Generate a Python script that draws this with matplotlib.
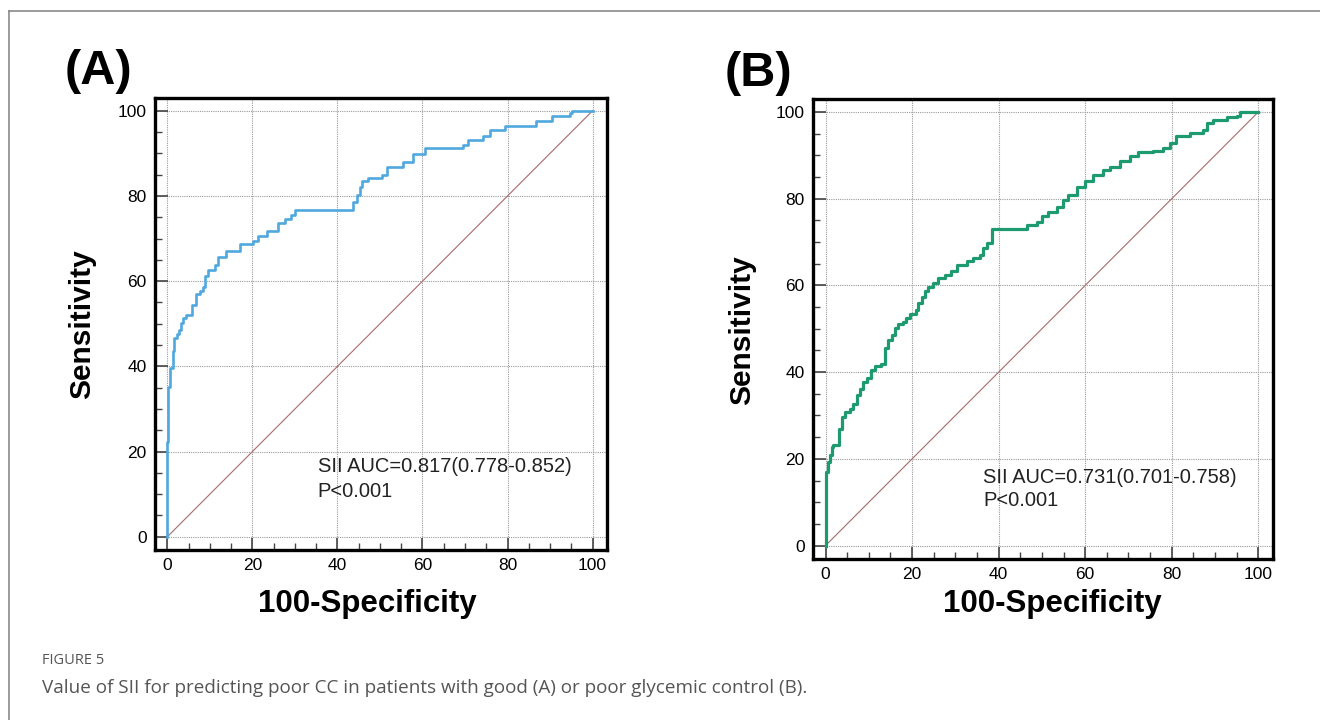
import numpy as np
import matplotlib
matplotlib.use('Agg')
import matplotlib.pyplot as plt
from matplotlib.ticker import MultipleLocator

plt.rcParams['font.family'] = ['Liberation Sans', 'DejaVu Sans']

# ROC vertices (100-Specificity, Sensitivity), panel A: good glycemic control
fpr_a = [0, 0, 0.2, 0.6, 1.25, 1.6, 2.2, 2.8, 3.2, 3.8, 4.4, 5.7, 6.7, 7.7, 8.5, 8.9, 9.6,
         11.2, 12.0, 13.9, 17.1, 20.2, 21.4, 23.4, 26.1, 27.7, 29.2, 30.0, 43.7, 44.5,
         45.3, 45.8, 47.3, 50.4, 51.6, 55.5, 57.8, 60.6, 69.6, 70.8, 74.3, 75.9, 79.4,
         86.8, 90.4, 94.7, 95.1, 100]
tpr_a = [0, 22.3, 35.2, 39.7, 43.5, 46.6, 47.5, 48.6, 50.1, 51.4, 52.0, 54.3, 57.1, 57.6,
         58.7, 61.1, 62.6, 63.8, 65.6, 67.2, 68.7, 69.5, 70.5, 71.7, 73.6, 74.6, 75.6,
         76.7, 78.7, 80.3, 82.2, 83.6, 84.3, 85.0, 86.7, 87.9, 89.8, 91.2, 92.0, 93.2,
         94.0, 95.5, 96.5, 97.7, 98.7, 99.5, 100, 100]

# panel B: poor glycemic control
fpr_b = [0, 0, 0.2, 0.6, 1.0, 1.4, 1.8, 3.2, 3.7, 4.5, 5.6, 6.4, 7.2, 7.9, 8.7, 9.5, 10.6,
         11.4, 12.9, 13.7, 14.5, 15.3, 16.0, 16.8, 17.9, 18.7, 19.5, 21.0, 21.4, 22.2,
         22.9, 23.7, 24.9, 26.0, 27.6, 29.1, 30.3, 32.6, 34.1, 35.7, 36.4, 37.2, 38.4,
         46.5, 48.8, 50.0, 51.5, 53.4, 54.9, 56.1, 58.0, 59.9, 61.8, 64.2, 65.7, 68.0,
         70.3, 72.3, 75.7, 78.0, 79.6, 81.1, 84.2, 87.3, 88.1, 89.6, 92.7, 95.0, 95.8, 100]
tpr_b = [0, 15.4, 17.0, 19.3, 20.8, 22.7, 23.1, 27.0, 29.7, 30.8, 31.6, 32.7, 34.7, 36.2,
         37.8, 38.7, 40.4, 41.4, 41.8, 45.5, 47.4, 48.5, 50.1, 51.0, 51.6, 52.5, 53.5,
         54.3, 55.9, 57.4, 58.6, 59.7, 60.5, 61.6, 62.4, 63.3, 64.7, 65.6, 66.4, 67.0,
         68.6, 69.7, 73.0, 74.0, 74.7, 75.9, 76.9, 78.2, 79.7, 80.9, 82.6, 84.0, 85.5,
         86.7, 87.4, 88.6, 89.8, 90.8, 91.1, 91.7, 92.8, 94.4, 95.1, 95.9, 97.5, 98.2,
         98.8, 99.0, 100, 100]

labels = ['(A)', '(B)']
auc_text = ['SII AUC=0.817(0.778-0.852)', 'SII AUC=0.731(0.701-0.758)']
p_text = 'P<0.001'
caption_head = 'FIGURE 5'
caption = 'Value of SII for predicting poor CC in patients with good (A) or poor glycemic control (B).'

fig = plt.figure(figsize=(13.2, 7.2), dpi=100)

# page frame lines (top and left)
fig.add_artist(plt.Line2D([9 / 1320, 1], [1 - 11 / 720, 1 - 11 / 720], color='#8a8a8a', lw=1.2))
fig.add_artist(plt.Line2D([9 / 1320, 9 / 1320], [0, 1 - 11 / 720], color='#8a8a8a', lw=1.2))

ax_a = fig.add_axes([155 / 1320, 1 - 550 / 720, 452 / 1320, 452 / 720])
ax_b = fig.add_axes([813 / 1320, 1 - 559 / 720, 460 / 1320, 460 / 720])

panels = [
    (ax_a, fpr_a, tpr_a, '#4fa8de', 1.9, (35.4, 16.4), (35.4, 10.7), (0.469, -0.119), (-0.1615, 0.5)),
    (ax_b, fpr_b, tpr_b, '#1d9a70', 2.3, (36.4, 15.7), (36.4, 10.4), (0.52, -0.098), (-0.154, 0.498)),
]

for i, (ax, fx, ty, col, lw, pos1, pos2, xl, yl) in enumerate(panels):
    ax.plot([0, 100], [0, 100], color='#a86a6a', lw=0.8, zorder=2)
    ax.plot(fx, ty, drawstyle='steps-post', color=col, lw=lw, zorder=3)
    ax.set_xlim(-2.9, 103.4)
    ax.set_ylim(-3.1, 103.0)
    ax.xaxis.set_major_locator(MultipleLocator(20))
    ax.yaxis.set_major_locator(MultipleLocator(20))
    ax.xaxis.set_minor_locator(MultipleLocator(5))
    ax.yaxis.set_minor_locator(MultipleLocator(5))
    ax.grid(True, which='major', color='#9a9a9a', linestyle=(0, (1, 1)), lw=0.8, zorder=1)
    ax.tick_params(which='major', direction='in', length=9, width=1.2, color='#444444',
                   labelsize=12.5, pad=6)
    ax.tick_params(which='minor', direction='in', length=5, width=1.0, color='#444444')
    for s in ax.spines.values():
        s.set_linewidth(2.4)
        s.set_color('black')
    ax.set_xlabel('100-Specificity', fontsize=22.5, fontweight='bold')
    ax.set_ylabel('Sensitivity', fontsize=21.5, fontweight='bold')
    ax.xaxis.label.set_verticalalignment('center')
    ax.yaxis.label.set_verticalalignment('center')
    ax.xaxis.set_label_coords(*xl)
    ax.yaxis.set_label_coords(*yl)
    ax.text(pos1[0], pos1[1], auc_text[i], fontsize=14.5, va='center', ha='left', color='#222222')
    ax.text(pos2[0], pos2[1], p_text, fontsize=14.5, va='center', ha='left', color='#222222')

fig.text(65 / 1320, 1 - 72 / 720, labels[0], fontsize=35, fontweight='bold', va='center', ha='left')
fig.text(725 / 1320, 1 - 74 / 720, labels[1], fontsize=35, fontweight='bold', va='center', ha='left')

fig.text(42 / 1320, 1 - 660 / 720, caption_head, fontsize=10.5, color='#555555',
         family=['Open Sans', 'DejaVu Sans'], va='center', ha='left')
fig.text(42 / 1320, 1 - 688 / 720, caption, fontsize=13.6, color='#555555',
         family=['Open Sans', 'DejaVu Sans'], va='center', ha='left')

fig.savefig('out.png', dpi=100)
